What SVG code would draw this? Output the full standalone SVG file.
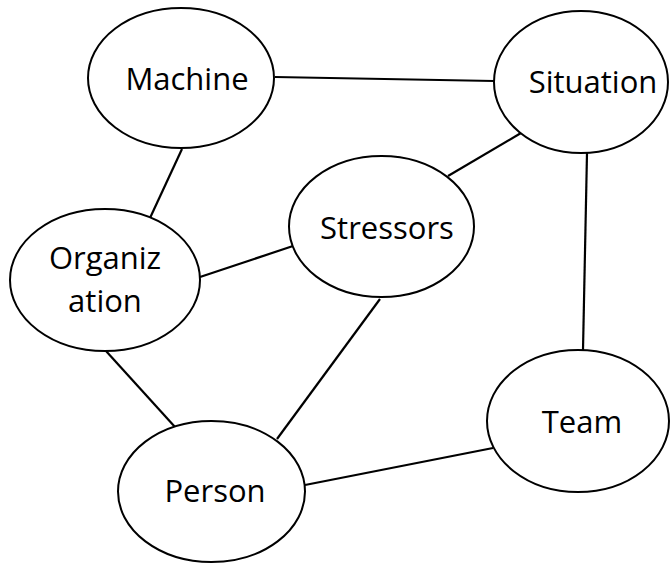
<svg xmlns="http://www.w3.org/2000/svg" width="670" height="563" viewBox="0 0 670 563">
<style>
.n{fill:#fff;stroke:#000;stroke-width:2}
.e{stroke:#000;stroke-width:2.2;fill:none}
.t{font-family:"Open Sans","Noto Sans",sans-serif;font-size:31px;fill:#000;text-anchor:middle}
</style>
<rect width="670" height="563" fill="#fff"/>
<g id="connectors">
<line class="e" x1="275" y1="77" x2="494" y2="81"/>
<line class="e" x1="182" y1="149" x2="150" y2="218"/>
<line class="e" x1="521" y1="133" x2="448" y2="176"/>
<line class="e" x1="200" y1="277" x2="293" y2="246"/>
<line class="e" x1="587" y1="153" x2="583" y2="350"/>
<line class="e" x1="106" y1="351" x2="175" y2="427"/>
<line class="e" x1="380" y1="299" x2="277" y2="439"/>
<line class="e" x1="305" y1="485" x2="493" y2="448"/>
</g>
<g id="machine"><ellipse class="n" cx="181" cy="78" rx="93" ry="70"/><text class="t" x="187" y="90">Machine</text></g>
<g id="situation"><ellipse class="n" cx="581" cy="82" rx="87" ry="71"/><text class="t" x="593" y="93">Situation</text></g>
<g id="stressors"><ellipse class="n" cx="381.5" cy="226.5" rx="92.5" ry="70.5"/><text class="t" x="387" y="239">Stressors</text></g>
<g id="organization"><ellipse class="n" cx="105" cy="280" rx="95" ry="71"/><text class="t" x="105" y="269">Organiz</text><text class="t" x="105" y="312">ation</text></g>
<g id="team"><ellipse class="n" cx="578" cy="421" rx="91" ry="71"/><text class="t" x="582" y="433">Team</text></g>
<g id="person"><ellipse class="n" cx="211.5" cy="491.5" rx="93.5" ry="70.5"/><text class="t" x="215" y="502">Person</text></g>
</svg>
